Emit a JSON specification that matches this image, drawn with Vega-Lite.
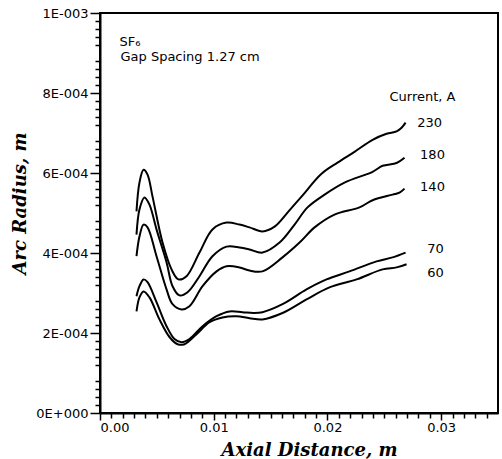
{
  "$schema": "https://vega.github.io/schema/vega-lite/v6.json",
  "width": 398,
  "height": 400,
  "autosize": {"type": "none"},
  "padding": {"left": 100, "top": 13, "right": 4, "bottom": 46},
  "background": "white",
  "config": {
    "view": {"stroke": "black", "strokeWidth": 2},
    "axis": {"grid": false, "domainColor": "black", "domainWidth": 2, "tickColor": "black", "tickWidth": 1.5, "labelColor": "black", "titleColor": "black", "labelFont": "DejaVu Sans", "labelFontSize": 13, "titleFont": "DejaVu Serif", "titleFontStyle": "italic", "titleFontWeight": "bold", "titleFontSize": 18}
  },
  "datasets": {
    "curves": [
      {"c":"230","x":0.00321,"y":0.000504},{"c":"230","x":0.00347,"y":0.000576},{"c":"230","x":0.00383,"y":0.000608},{"c":"230","x":0.00418,"y":0.000596},{"c":"230","x":0.00462,"y":0.000541},{"c":"230","x":0.00550,"y":0.000426},{"c":"230","x":0.00629,"y":0.000359},{"c":"230","x":0.00690,"y":0.000334},{"c":"230","x":0.00761,"y":0.000342},{"c":"230","x":0.00875,"y":0.000401},{"c":"230","x":0.00989,"y":0.000459},{"c":"230","x":0.01113,"y":0.000476},{"c":"230","x":0.01227,"y":0.000471},{"c":"230","x":0.01315,"y":0.000464},{"c":"230","x":0.01429,"y":0.000454},{"c":"230","x":0.01535,"y":0.000466},{"c":"230","x":0.01649,"y":0.000501},{"c":"230","x":0.01772,"y":0.000541},{"c":"230","x":0.01948,"y":0.000598},{"c":"230","x":0.02089,"y":0.000626},{"c":"230","x":0.02238,"y":0.000653},{"c":"230","x":0.02397,"y":0.000683},{"c":"230","x":0.02520,"y":0.000698},{"c":"230","x":0.02608,"y":0.000704},{"c":"230","x":0.02652,"y":0.000713},{"c":"230","x":0.02687,"y":0.000726},
      {"c":"180","x":0.00321,"y":0.000446},{"c":"180","x":0.00347,"y":0.000509},{"c":"180","x":0.00391,"y":0.000539},{"c":"180","x":0.00435,"y":0.000521},{"c":"180","x":0.00497,"y":0.000459},{"c":"180","x":0.00585,"y":0.000377},{"c":"180","x":0.00638,"y":0.000317},{"c":"180","x":0.00699,"y":0.000294},{"c":"180","x":0.00770,"y":0.000302},{"c":"180","x":0.00875,"y":0.000342},{"c":"180","x":0.00989,"y":0.000392},{"c":"180","x":0.01113,"y":0.000416},{"c":"180","x":0.01227,"y":0.000414},{"c":"180","x":0.01315,"y":0.000409},{"c":"180","x":0.01429,"y":0.000401},{"c":"180","x":0.01579,"y":0.000426},{"c":"180","x":0.01711,"y":0.000471},{"c":"180","x":0.01825,"y":0.000514},{"c":"180","x":0.01975,"y":0.000546},{"c":"180","x":0.02150,"y":0.000576},{"c":"180","x":0.02397,"y":0.000603},{"c":"180","x":0.02485,"y":0.000618},{"c":"180","x":0.02608,"y":0.000625},{"c":"180","x":0.02678,"y":0.000638},
      {"c":"140","x":0.00321,"y":0.000392},{"c":"140","x":0.00347,"y":0.000441},{"c":"140","x":0.00383,"y":0.000471},{"c":"140","x":0.00418,"y":0.000464},{"c":"140","x":0.00497,"y":0.000392},{"c":"140","x":0.00585,"y":0.000309},{"c":"140","x":0.00638,"y":0.000272},{"c":"140","x":0.00717,"y":0.000259},{"c":"140","x":0.00787,"y":0.000267},{"c":"140","x":0.00902,"y":0.000317},{"c":"140","x":0.01025,"y":0.000354},{"c":"140","x":0.01113,"y":0.000367},{"c":"140","x":0.01227,"y":0.000364},{"c":"140","x":0.01315,"y":0.000356},{"c":"140","x":0.01429,"y":0.000354},{"c":"140","x":0.01605,"y":0.000389},{"c":"140","x":0.01755,"y":0.000426},{"c":"140","x":0.01887,"y":0.000464},{"c":"140","x":0.02062,"y":0.000496},{"c":"140","x":0.02282,"y":0.000514},{"c":"140","x":0.02397,"y":0.000532},{"c":"140","x":0.02573,"y":0.000546},{"c":"140","x":0.02634,"y":0.000551},{"c":"140","x":0.02678,"y":0.000561},
      {"c":"70","x":0.00321,"y":0.000292},{"c":"70","x":0.00347,"y":0.000317},{"c":"70","x":0.00383,"y":0.000334},{"c":"70","x":0.00418,"y":0.000327},{"c":"70","x":0.00497,"y":0.000277},{"c":"70","x":0.00585,"y":0.000217},{"c":"70","x":0.00655,"y":0.000185},{"c":"70","x":0.00717,"y":0.000177},{"c":"70","x":0.00787,"y":0.000185},{"c":"70","x":0.00902,"y":0.000217},{"c":"70","x":0.01025,"y":0.000242},{"c":"70","x":0.01139,"y":0.000254},{"c":"70","x":0.01253,"y":0.000252},{"c":"70","x":0.01350,"y":0.000250},{"c":"70","x":0.01429,"y":0.000252},{"c":"70","x":0.01605,"y":0.000272},{"c":"70","x":0.01816,"y":0.000309},{"c":"70","x":0.01992,"y":0.000334},{"c":"70","x":0.02194,"y":0.000354},{"c":"70","x":0.02432,"y":0.000379},{"c":"70","x":0.02573,"y":0.000389},{"c":"70","x":0.02687,"y":0.000401},
      {"c":"60","x":0.00321,"y":0.000254},{"c":"60","x":0.00347,"y":0.000289},{"c":"60","x":0.00383,"y":0.000304},{"c":"60","x":0.00435,"y":0.000289},{"c":"60","x":0.00523,"y":0.000234},{"c":"60","x":0.00611,"y":0.000190},{"c":"60","x":0.00682,"y":0.000172},{"c":"60","x":0.00743,"y":0.000172},{"c":"60","x":0.00849,"y":0.000197},{"c":"60","x":0.00963,"y":0.000227},{"c":"60","x":0.01077,"y":0.000239},{"c":"60","x":0.01200,"y":0.000242},{"c":"60","x":0.01315,"y":0.000237},{"c":"60","x":0.01429,"y":0.000234},{"c":"60","x":0.01605,"y":0.000250},{"c":"60","x":0.01816,"y":0.000284},{"c":"60","x":0.02018,"y":0.000314},{"c":"60","x":0.02256,"y":0.000334},{"c":"60","x":0.02485,"y":0.000359},{"c":"60","x":0.02608,"y":0.000364},{"c":"60","x":0.02696,"y":0.000372}
    ],
    "labels": [
      {"x":0.02898,"y":0.000726,"t":"230"},
      {"x":0.02924,"y":0.000646,"t":"180"},
      {"x":0.02924,"y":0.000566,"t":"140"},
      {"x":0.02950,"y":0.000411,"t":"70"},
      {"x":0.02950,"y":0.000349,"t":"60"},
      {"x":0.02836,"y":0.000791,"t":"Current,  A"}
    ],
    "notes": [
      {"x":0.00172,"y":0.000928,"t":"SF₆"},
      {"x":0.00180,"y":0.000890,"t":"Gap Spacing  1.27  cm"}
    ]
  },
  "resolve": {"axis": {"x": "independent", "y": "independent"}},
  "layer": [
    {
      "data": {"name": "curves"},
      "mark": {"type": "line", "color": "black", "strokeWidth": 2, "interpolate": "catmull-rom"},
      "encoding": {
        "x": {"field": "x", "type": "quantitative", "scale": {"domain": [0, 0.035], "nice": false},
          "axis": {"orient": "bottom", "values": [0, 0.01, 0.02, 0.03], "format": ".2f", "tickSize": 7, "labelPadding": 1, "title": "Axial Distance, m", "titleX": 209, "titleY": 42, "titleBaseline": "alphabetic", "titleAnchor": null}},
        "y": {"field": "y", "type": "quantitative", "scale": {"domain": [0, 0.001], "nice": false},
          "axis": {"orient": "left", "values": [0, 0.0002, 0.0004, 0.0006, 0.0008, 0.001], "tickSize": 10, "labelPadding": 2,
            "labelExpr": "datum.value == 0 ? '0E+000' : (datum.value > 0.00099 ? '1E-003' : format(round(datum.value*10000), 'd') + 'E-004')",
            "title": "Arc Radius, m", "titleX": -80, "titleY": 190, "titleAngle": -90, "titleAlign": "center", "titleBaseline": "middle"}},
        "detail": {"field": "c", "type": "nominal"}
      }
    },
    {
      "data": {"name": "curves"},
      "mark": {"type": "line", "opacity": 0},
      "encoding": {
        "x": {"field": "x", "type": "quantitative", "scale": {"domain": [0, 0.035], "nice": false},
          "axis": {"orient": "bottom", "values": [0.001,0.002,0.003,0.004,0.005,0.006,0.007,0.008,0.009,0.011,0.012,0.013,0.014,0.015,0.016,0.017,0.018,0.019,0.021,0.022,0.023,0.024,0.025,0.026,0.027,0.028,0.029,0.031,0.032,0.033,0.034], "labels": false, "domain": false, "tickSize": 5, "title": null}},
        "y": {"field": "y", "type": "quantitative", "scale": {"domain": [0, 0.001], "nice": false},
          "axis": {"orient": "left", "values": [0.00002,0.00004,0.00006,0.00008,0.00012,0.00014,0.00016,0.00018,0.00022,0.00024,0.00026,0.00028,0.00032,0.00034,0.00036,0.00038,0.00042,0.00044,0.00046,0.00048,0.00052,0.00054,0.00056,0.00058,0.00062,0.00064,0.00066,0.00068,0.00072,0.00074,0.00076,0.00078,0.00082,0.00084,0.00086,0.00088,0.00092,0.00094,0.00096,0.00098], "labels": false, "domain": false, "tickSize": 5, "title": null}},
        "detail": {"field": "c", "type": "nominal"}
      }
    },
    {
      "data": {"name": "labels"},
      "mark": {"type": "text", "font": "DejaVu Sans", "fontSize": 13, "color": "black", "baseline": "middle", "align": "center"},
      "encoding": {
        "x": {"field": "x", "type": "quantitative", "scale": {"domain": [0, 0.035], "nice": false}, "axis": null},
        "y": {"field": "y", "type": "quantitative", "scale": {"domain": [0, 0.001], "nice": false}, "axis": null},
        "text": {"field": "t"}
      }
    },
    {
      "data": {"name": "notes"},
      "mark": {"type": "text", "font": "DejaVu Sans", "fontSize": 13, "color": "black", "baseline": "middle", "align": "left"},
      "encoding": {
        "x": {"field": "x", "type": "quantitative", "scale": {"domain": [0, 0.035], "nice": false}, "axis": null},
        "y": {"field": "y", "type": "quantitative", "scale": {"domain": [0, 0.001], "nice": false}, "axis": null},
        "text": {"field": "t"}
      }
    }
  ]
}
